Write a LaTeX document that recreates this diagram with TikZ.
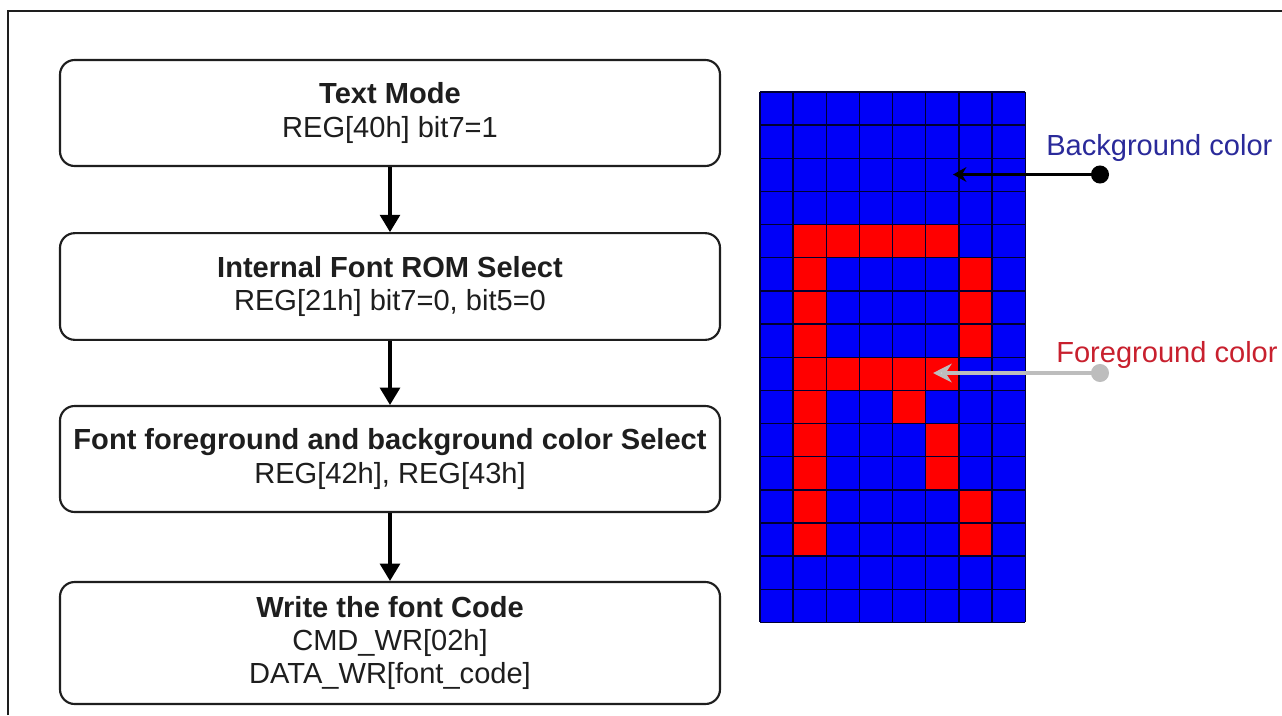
\documentclass[tikz,border=0pt]{standalone}
\usepackage{fontspec}
\setmainfont{Liberation Sans}
\usetikzlibrary{arrows.meta}
\definecolor{cellblue}{HTML}{0000F8}
\definecolor{cellred}{HTML}{FF0000}
\definecolor{labblue}{HTML}{2A2A9A}
\definecolor{labred}{HTML}{C8202E}
\definecolor{textdark}{HTML}{1E1E1E}
\definecolor{greyline}{HTML}{BDBDBD}
\tikzset{
  box/.style={draw=textdark, line width=1.6pt, rounded corners=11pt, fill=white,
    minimum width=495pt, inner sep=0pt, align=center, text=textdark,
    font=\fontsize{21.8}{24.8}\selectfont},
  flow/.style={line width=2.3pt, -{Triangle[length=13pt,width=15pt]}},
  lab/.style={anchor=west, inner sep=0pt, font=\fontsize{21.8}{24.8}\selectfont},
  gridline/.style={draw=black!80!blue, line width=1.05pt},
}
\begin{document}
\begin{tikzpicture}[x=0.75pt,y=-0.75pt]
\useasboundingbox (0,0) rectangle (1282,715);
% frame
\draw[line width=1.5pt, draw=textdark] (8,715) -- (8,11) -- (1282,11);
% flowchart
\node[box, minimum height=79.5pt] (b1) at (390,113) {\textbf{Text Mode}\\REG[40h] bit7=1};
\node[box, minimum height=80pt] (b2) at (390,286.5) {\textbf{Internal Font ROM Select}\\REG[21h] bit7=0, bit5=0};
\node[box, minimum height=79.5pt] (b3) at (390,459) {\textbf{Font foreground and background color Select}\\REG[42h], REG[43h]};
\node[box, minimum height=91.5pt] (b4) at (390,643) {\textbf{Write the font Code}\\CMD\_WR[02h]\\DATA\_WR[font\_code]};
\draw[flow] (b1) -- (b2);
\draw[flow] (b2) -- (b3);
\draw[flow] (b3) -- (b4);
% pixel grid
\fill[cellblue] (760,92) rectangle (1025.2,622.4);
\foreach \c/\r in {1/4,2/4,3/4,4/4,5/4,
                   1/5,6/5,1/6,6/6,1/7,6/7,
                   1/8,2/8,3/8,4/8,5/8,
                   1/9,4/9,1/10,5/10,1/11,5/11,
                   1/12,6/12,1/13,6/13}
  \fill[cellred] ({760+\c*33.15},{92+\r*33.15}) rectangle ++(33.15,33.15);
\foreach \i in {0,...,8}
  \draw[gridline] ({760+\i*33.15},92) -- ++(0,530.4);
\foreach \j in {0,...,16}
  \draw[gridline] (760,{92+\j*33.15}) -- ++(265.2,0);
% labels
\node[lab, text=labblue] (bglab) at (1046,148) {Background color};
\node[lab, text=labred] (fglab) at (1056,355) {Foreground color};
\coordinate (bgdot) at (1109,174.5);
\coordinate (bgtip) at (953,174.5);
\coordinate (fgdot) at (1109,373);
\coordinate (fgtip) at (933,373);
\draw[line width=2.4pt, black, {Circle[length=13.5pt]}-{Stealth[length=10pt,width=11pt]}] (bgdot) -- (bgtip);
\draw[line width=2.4pt, greyline, {Circle[length=13.5pt]}-{Stealth[length=14pt,width=14pt,fill=greyline!70!white]}] (fgdot) -- (fgtip);
\end{tikzpicture}
\end{document}
